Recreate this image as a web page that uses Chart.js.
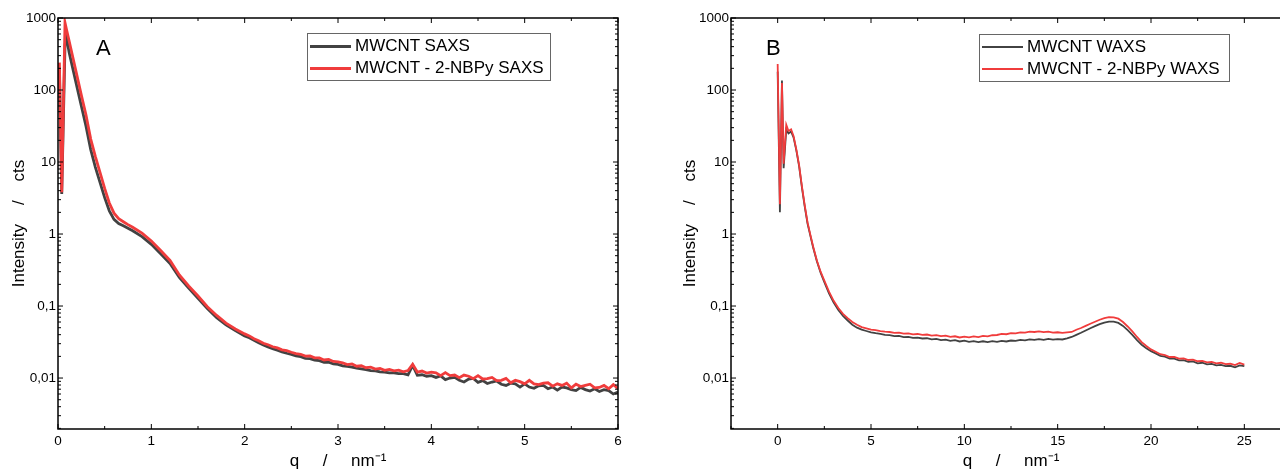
<!DOCTYPE html>
<html>
<head>
<meta charset="utf-8">
<script src="https://cdn.jsdelivr.net/npm/chart.js@4.4.1/dist/chart.umd.min.js"></script>
<style>
  body { margin: 0; width: 1280px; height: 475px; overflow: hidden; position: relative; background: #fff; font-family: "Liberation Sans", Arial, sans-serif; }
  .panel { position: absolute; top: 0; height: 475px; }
  .legend { position: absolute; border: 1px solid #666; background: #fff; font-size: 17px; color: #000; }
  .legend .row { position: absolute; left: 0; height: 20px; line-height: 20px; white-space: nowrap; }
  .legend .sw { position: absolute; left: 2px; top: 10px; width: 41px; }
  .legend .tx { position: absolute; top: 0; }
  .letter { position: absolute; font-size: 22px; color: #000; }
</style>
</head>
<body>
<div class="panel" style="left:0;width:640px"><canvas id="saxs" width="640" height="475"></canvas></div>
<div class="panel" style="left:640px;width:680px"><canvas id="waxs" width="680" height="475"></canvas></div>

<div class="letter" style="left:96px;top:35px">A</div>
<div class="letter" style="left:766px;top:35px">B</div>

<div class="legend" style="left:307px;top:33px;width:242px;height:46px">
  <div class="row" style="top:2px"><div class="sw" style="border-top:3px solid #424242;margin-top:-1.5px"></div><div class="tx" style="left:47px">MWCNT SAXS</div></div>
  <div class="row" style="top:24px"><div class="sw" style="border-top:3px solid #f03c3c;margin-top:-1.5px"></div><div class="tx" style="left:47px">MWCNT - 2-NBPy SAXS</div></div>
</div>
<div class="legend" style="left:979px;top:34px;width:249px;height:46px">
  <div class="row" style="top:2px"><div class="sw" style="border-top:2px solid #424242;margin-top:-1px"></div><div class="tx" style="left:47px">MWCNT WAXS</div></div>
  <div class="row" style="top:24px"><div class="sw" style="border-top:2px solid #f03c3c;margin-top:-1px"></div><div class="tx" style="left:47px">MWCNT - 2-NBPy WAXS</div></div>
</div>

<script>
// ---- panel A: SAXS ----
const qSaxs = [
  0.015, 0.04, 0.075, 0.09, 0.12, 0.16, 0.2, 0.25, 0.3, 0.35, 0.4, 0.45, 0.5, 0.55, 0.6, 0.65, 0.7, 0.75, 0.8, 0.9,
  1.0, 1.1, 1.2, 1.3, 1.4, 1.5, 1.6, 1.7, 1.8, 1.9, 2.0,
  2.05, 2.10, 2.15, 2.20, 2.25, 2.30, 2.35, 2.40, 2.45, 2.50, 2.55, 2.60, 2.65, 2.70, 2.75, 2.80, 2.85, 2.90, 2.95, 3.00,
  3.05, 3.10, 3.15, 3.20, 3.25, 3.30, 3.35, 3.40, 3.45, 3.50, 3.55, 3.60, 3.65, 3.70, 3.75, 3.80, 3.85, 3.90, 3.95, 4.00,
  4.05, 4.10, 4.15, 4.20, 4.25, 4.30, 4.35, 4.40, 4.45, 4.50, 4.55, 4.60, 4.65, 4.70, 4.75, 4.80, 4.85, 4.90, 4.95, 5.00,
  5.05, 5.10, 5.15, 5.20, 5.25, 5.30, 5.35, 5.40, 5.45, 5.50, 5.55, 5.60, 5.65, 5.70, 5.75, 5.80, 5.85, 5.90, 5.95, 6.00
];
const saxsMwcnt = [
  200, 3.6, 420, 540, 330, 195, 115, 60, 31.5, 15, 8.5, 5.2, 3.2, 2.1, 1.6, 1.4, 1.3, 1.2, 1.11, 0.92,
  0.72, 0.53, 0.39, 0.25, 0.177, 0.128, 0.092, 0.069, 0.055, 0.0455, 0.0385,
  0.0362, 0.0334, 0.0309, 0.0287, 0.0271, 0.0256, 0.0243, 0.0231, 0.0221, 0.0213, 0.0203, 0.0198, 0.0188, 0.0186, 0.0177, 0.0174, 0.0165, 0.0166, 0.0157, 0.0155,
  0.0148, 0.0145, 0.0142, 0.0137, 0.0134, 0.0131, 0.0127, 0.0126, 0.0122, 0.0121, 0.0118, 0.0118, 0.0115, 0.0115, 0.0111, 0.0150, 0.0109, 0.0111, 0.0106, 0.0108,
  0.0102, 0.0107, 0.0095, 0.0100, 0.0102, 0.0093, 0.0088, 0.0097, 0.0099, 0.0087, 0.0092, 0.0084, 0.0088, 0.0091, 0.0082, 0.0079, 0.0085, 0.0083, 0.0075, 0.0083,
  0.0075, 0.0072, 0.0078, 0.0079, 0.0071, 0.0075, 0.0068, 0.0075, 0.0073, 0.0069, 0.0067, 0.0074, 0.0069, 0.0066, 0.0071, 0.0065, 0.0069, 0.0067, 0.0060, 0.0064
];
const saxsNbpy = [
  240, 3.8, 860, 700, 475, 280, 165, 85, 45, 21, 12, 7.2, 4.3, 2.7, 1.95, 1.63, 1.48, 1.35, 1.24, 1.03,
  0.8, 0.59, 0.43, 0.27, 0.19, 0.138, 0.098, 0.074, 0.058, 0.048, 0.041,
  0.0385, 0.0352, 0.0330, 0.0304, 0.0290, 0.0272, 0.0262, 0.0246, 0.0240, 0.0228, 0.0219, 0.0214, 0.0202, 0.0203, 0.0191, 0.0190, 0.0178, 0.0181, 0.0170, 0.0168,
  0.0162, 0.0154, 0.0157, 0.0146, 0.0148, 0.0139, 0.0142, 0.0133, 0.0136, 0.0128, 0.0132, 0.0126, 0.0129, 0.0122, 0.0127, 0.0155, 0.0121, 0.0125, 0.0117, 0.0121,
  0.0118, 0.0108, 0.0119, 0.0108, 0.0110, 0.0101, 0.0110, 0.0106, 0.0098, 0.0108, 0.0097, 0.0098, 0.0102, 0.0092, 0.0093, 0.0099, 0.0086, 0.0093, 0.0089, 0.0083,
  0.0093, 0.0083, 0.0081, 0.0085, 0.0086, 0.0077, 0.0083, 0.0079, 0.0085, 0.0073, 0.0082, 0.0076, 0.0079, 0.0082, 0.0073, 0.0074, 0.0079, 0.0071, 0.0081, 0.0072
];

// ---- panel B: WAXS ----
const qWaxs = [
  0.0, 0.12, 0.23, 0.32, 0.46, 0.58, 0.72, 0.85, 1.0, 1.15, 1.3, 1.45, 1.6, 1.75, 1.9, 2.1, 2.3, 2.5, 2.75, 3.0, 3.25, 3.5, 3.75, 4.0, 4.25, 4.5, 4.75,
  5.0, 5.25, 5.5, 5.75, 6.0, 6.25, 6.5, 6.75, 7.0, 7.25, 7.5, 7.75, 8.0, 8.25, 8.5, 8.75, 9.0, 9.25, 9.5, 9.75,
  10.0, 10.25, 10.5, 10.75, 11.0, 11.25, 11.5, 11.75, 12.0, 12.25, 12.5, 12.75, 13.0, 13.25, 13.5, 13.75, 14.0, 14.25, 14.5, 14.75,
  15.0, 15.25, 15.5, 15.75, 16.0, 16.25, 16.5, 16.75, 17.0, 17.25, 17.5, 17.75, 18.0, 18.25, 18.5, 18.75, 19.0, 19.25, 19.5, 19.75,
  20.0, 20.25, 20.5, 20.75, 21.0, 21.25, 21.5, 21.75, 22.0, 22.25, 22.5, 22.75, 23.0, 23.25, 23.5, 23.75, 24.0, 24.25, 24.5, 24.75, 25.0
];
const waxsMwcnt = [
  180, 2.0, 135, 8.2, 28, 25, 26.5, 22, 14.5, 8.7, 4.4, 2.4, 1.4, 0.95, 0.65, 0.42, 0.29, 0.215, 0.150, 0.112, 0.088, 0.073, 0.063, 0.055, 0.050, 0.047, 0.045,
  0.0432, 0.0420, 0.0410, 0.0398, 0.0394, 0.0382, 0.0384, 0.0371, 0.0374, 0.0362, 0.0364, 0.0354, 0.0357, 0.0345, 0.0349, 0.0337, 0.0342, 0.0328, 0.0335, 0.0322,
  0.0330, 0.0318, 0.0326, 0.0316, 0.0324, 0.0316, 0.0325, 0.0318, 0.0328, 0.0322, 0.0332, 0.0328, 0.0338, 0.0334, 0.0344, 0.0338, 0.0348, 0.0340, 0.0349, 0.0341,
  0.0348, 0.0343, 0.0356, 0.0372, 0.0398, 0.0425, 0.0458, 0.0492, 0.0525, 0.0560, 0.0590, 0.0608, 0.0606, 0.0582, 0.0530, 0.0462, 0.0398, 0.0336, 0.0290, 0.0260,
  0.0236, 0.0220, 0.0203, 0.0198, 0.0186, 0.0186, 0.0176, 0.0177, 0.0168, 0.0170, 0.0160, 0.0163, 0.0155, 0.0157, 0.0150, 0.0152, 0.0146, 0.0148, 0.0141, 0.0150, 0.0146
];
const waxsNbpy = [
  230, 2.6, 125, 9.5, 33, 27, 28.5, 23, 15, 9, 4.6, 2.5, 1.45, 0.98, 0.67, 0.43, 0.30, 0.225, 0.158, 0.118, 0.094, 0.078, 0.068, 0.060, 0.055, 0.051, 0.049,
  0.0470, 0.0462, 0.0448, 0.0441, 0.0436, 0.0425, 0.0428, 0.0414, 0.0418, 0.0404, 0.0409, 0.0397, 0.0402, 0.0388, 0.0395, 0.0381, 0.0388, 0.0372, 0.0380, 0.0366,
  0.0376, 0.0368, 0.0379, 0.0370, 0.0384, 0.0378, 0.0393, 0.0396, 0.0410, 0.0406, 0.0420, 0.0418, 0.0430, 0.0428, 0.0440, 0.0436, 0.0444, 0.0434, 0.0440, 0.0428,
  0.0432, 0.0424, 0.0430, 0.0436, 0.0468, 0.0495, 0.0530, 0.0568, 0.0605, 0.0645, 0.0680, 0.0702, 0.0698, 0.0668, 0.0600, 0.0520, 0.0445, 0.0372, 0.0315, 0.0278,
  0.0250, 0.0232, 0.0214, 0.0208, 0.0196, 0.0197, 0.0186, 0.0188, 0.0178, 0.0180, 0.0171, 0.0173, 0.0165, 0.0168, 0.0160, 0.0163, 0.0156, 0.0158, 0.0151, 0.0162, 0.0154
];

// ticks
const yTicks = [0.01, 0.1, 1, 10, 100, 1000];
const yTickLabels = ['0,01', '0,1', '1', '10', '100', '1000'];
const saxsXTicks = [0, 1, 2, 3, 4, 5, 6];
const waxsXTicks = [0, 5, 10, 15, 20, 25];

const FONT = '"Liberation Sans", Arial, sans-serif';
const DARK = '#424242';
const RED = '#f03c3c';

// frame box + inward tick marks
const frameTicks = {
  id: 'frameTicks',
  afterDatasetsDraw(chart, args, opts) {
    const { ctx, chartArea: a, scales: { x, y } } = chart;
    ctx.save();
    ctx.strokeStyle = '#000';
    ctx.lineWidth = 1.5;
    ctx.strokeRect(a.left, a.top, a.right - a.left, a.bottom - a.top);
    ctx.lineWidth = 1;
    const seg = (x1, y1, x2, y2) => { ctx.beginPath(); ctx.moveTo(x1, y1); ctx.lineTo(x2, y2); ctx.stroke(); };
    const xMarks = (v, len) => {
      const p = x.getPixelForValue(v);
      if (p < a.left - 0.5 || p > a.right + 0.5) return;
      seg(p, a.bottom, p, a.bottom - len);
      seg(p, a.top, p, a.top + len);
    };
    const yMarks = (v, len) => {
      const p = y.getPixelForValue(v);
      if (p < a.top - 0.5 || p > a.bottom + 0.5) return;
      seg(a.left, p, a.left + len, p);
      seg(a.right, p, a.right - len, p);
    };
    opts.xMajor.forEach(v => xMarks(v, 5));
    opts.xMinor.forEach(v => xMarks(v, 3));
    yTicks.forEach(v => yMarks(v, 5));
    [0.001, 0.01, 0.1, 1, 10, 100].forEach(d => {
      for (let m = 2; m <= 9; m++) yMarks(m * d, 3);
    });
    ctx.restore();
  }
};

function makeChart(id, q, dark, red, cfg) {
  const pts = arr => q.map((v, i) => ({ x: v, y: arr[i] }));
  return new Chart(document.getElementById(id), {
    type: 'line',
    data: {
      datasets: [
        { label: cfg.names[1], data: pts(red), borderColor: RED, borderWidth: cfg.lw, pointRadius: 0, tension: 0, order: 0 },
        { label: cfg.names[0], data: pts(dark), borderColor: DARK, borderWidth: cfg.lw, pointRadius: 0, tension: 0, order: 1 }
      ]
    },
    options: {
      responsive: false,
      animation: false,
      events: [],
      layout: { padding: cfg.padding },
      plugins: {
        legend: { display: false },
        tooltip: { enabled: false },
        frameTicks: { xMajor: cfg.xTicks, xMinor: cfg.xMinor }
      },
      scales: {
        x: {
          type: 'linear',
          min: cfg.xMin,
          max: cfg.xMax,
          grid: { display: false, drawTicks: false, tickLength: 0 },
          border: { display: false },
          afterBuildTicks: s => { s.ticks = cfg.xTicks.map(v => ({ value: v })); },
          afterFit: s => { s.height = 46; },
          ticks: { autoSkip: false, maxRotation: 0, padding: 4, color: '#000', font: { family: FONT, size: 13.5 } },
          title: { display: true, text: 'q     /     nm\u207B\u00B9', color: '#000', padding: { top: 0, bottom: 3 }, font: { family: FONT, size: 17 } }
        },
        y: {
          type: 'logarithmic',
          min: 0.00196,
          max: 1000,
          grid: { display: false, drawTicks: false, tickLength: 0 },
          border: { display: false },
          afterBuildTicks: s => { s.ticks = yTicks.map(v => ({ value: v })); },
          afterFit: s => { s.width = cfg.yWidth; },
          ticks: {
            autoSkip: false, padding: 2, color: '#000', font: { family: FONT, size: 13.5 },
            callback: v => yTickLabels[yTicks.indexOf(v)]
          },
          title: { display: true, text: 'Intensity    /    cts', color: '#000', padding: { top: cfg.yTitlePad, bottom: 0 }, font: { family: FONT, size: 17 } }
        }
      }
    },
    plugins: [frameTicks]
  });
}

makeChart('saxs', qSaxs, saxsMwcnt, saxsNbpy, {
  names: ['MWCNT SAXS', 'MWCNT - 2-NBPy SAXS'],
  lw: 2.8,
  xMin: 0, xMax: 6,
  xTicks: saxsXTicks,
  xMinor: [0.5, 1.5, 2.5, 3.5, 4.5, 5.5],
  yWidth: 58,
  yTitlePad: 9,
  padding: { top: 18, right: 22, left: 0, bottom: 0 }
});

makeChart('waxs', qWaxs, waxsMwcnt, waxsNbpy, {
  names: ['MWCNT WAXS', 'MWCNT - 2-NBPy WAXS'],
  lw: 1.8,
  xMin: -2.5, xMax: 27.5,
  xTicks: waxsXTicks,
  xMinor: [-2.5, 2.5, 7.5, 12.5, 17.5, 22.5, 27.5],
  yWidth: 91,
  yTitlePad: 40,
  padding: { top: 18, right: 29, left: 0, bottom: 0 }
});
</script>
</body>
</html>
